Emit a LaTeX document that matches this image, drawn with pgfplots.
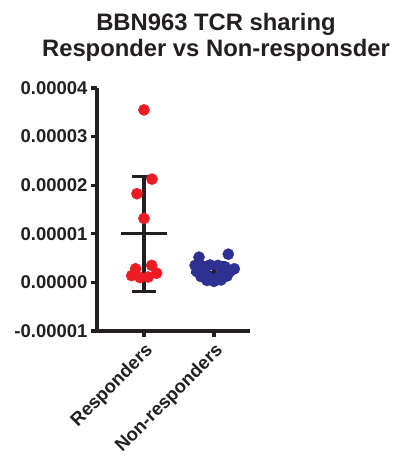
\documentclass[border=0pt]{standalone}
\usepackage{fontspec}
\setmainfont{Liberation Sans}
\usepackage{pgfplots}
\pgfplotsset{compat=1.18}
\definecolor{rred}{RGB}{237,28,36}
\definecolor{rblue}{RGB}{46,49,146}
\definecolor{ink}{RGB}{35,31,32}
\begin{document}
\begin{tikzpicture}[x=1pt,y=1pt]
\path[use as bounding box] (0,0) rectangle (396,459);
\node[anchor=base, font=\bfseries\fontsize{23.8}{26}\selectfont, text=ink] at (216,428) {BBN963 TCR sharing};
\node[anchor=base, font=\bfseries\fontsize{23.8}{26}\selectfont, text=ink] at (216,402) {Responder vs Non-responsder};
\begin{axis}[
  at={(97pt,128pt)}, anchor=south west,
  width=153pt, height=243pt, scale only axis,
  axis x line*=bottom, axis y line*=left,
  axis line style={line width=3.2pt, ink, -},
  xmin=-0.671, xmax=1.514, ymin=-1e-5, ymax=4e-5,
  xtick={0,1}, xticklabels={Responders,Non-responders},
  ytick={-1e-5,0,1e-5,2e-5,3e-5,4e-5},
  scaled y ticks=false,
  yticklabel style={/pgf/number format/.cd, fixed, fixed zerofill, precision=5, assume math mode=true},
  tick style={line width=3.2pt, ink},
  major tick length=6pt,
  tick align=outside,
  ticklabel style={font=\bfseries\fontsize{18.5}{18.5}\selectfont, text=ink},
  xticklabel style={rotate=45, anchor=north east},
  clip=false,
]
% Responders: SD bar and mean
\addplot[ink, line width=3.2pt] coordinates {(0,-0.179e-5) (0,2.177e-5)};
\addplot[ink, line width=3.2pt] coordinates {(-0.17,2.177e-5) (0.17,2.177e-5)};
\addplot[ink, line width=3.2pt] coordinates {(-0.17,-0.179e-5) (0.17,-0.179e-5)};
\addplot[ink, line width=3.2pt] coordinates {(-0.33,0.9987e-5) (0.33,0.9987e-5)};
% Non-responders: SD bar and mean
\addplot[ink, line width=3.2pt] coordinates {(1,0.08e-5) (1,0.40e-5)};
\addplot[ink, line width=3.2pt] coordinates {(0.83,0.40e-5) (1.17,0.40e-5)};
\addplot[ink, line width=3.2pt] coordinates {(0.83,0.08e-5) (1.17,0.08e-5)};
\addplot[ink, line width=3.2pt] coordinates {(0.67,0.21e-5) (1.33,0.21e-5)};
% Responders points
\addplot[only marks, mark=*, mark size=5.6pt, draw=rred, fill=rred, mark options={draw=rred, fill=rred}] coordinates {
(0,3.55e-5) (0.114,2.125e-5) (-0.1,1.825e-5) (0,1.317e-5)
(-0.12,0.28e-5) (0.11,0.35e-5) (-0.176,0.14e-5) (-0.057,0.10e-5) (0.061,0.11e-5) (0.18,0.19e-5)
};
% Non-responders points
\addplot[only marks, mark=*, mark size=5.6pt, draw=rblue, fill=rblue, mark options={draw=rblue, fill=rblue}] coordinates {
(0.786,0.52e-5) (1.204,0.58e-5) (1.29,0.28e-5) (0.73,0.35e-5)
(0.843,0.33e-5) (0.943,0.36e-5) (1.057,0.35e-5) (1.157,0.32e-5)
(0.757,0.22e-5) (0.871,0.20e-5) (1.114,0.21e-5) (1.229,0.23e-5)
(0.814,0.12e-5) (0.929,0.10e-5) (1.071,0.11e-5) (1.186,0.13e-5)
(0.9,0.04e-5) (1.0,0.02e-5) (1.1,0.05e-5)
};
\end{axis}
\end{tikzpicture}
\end{document}
